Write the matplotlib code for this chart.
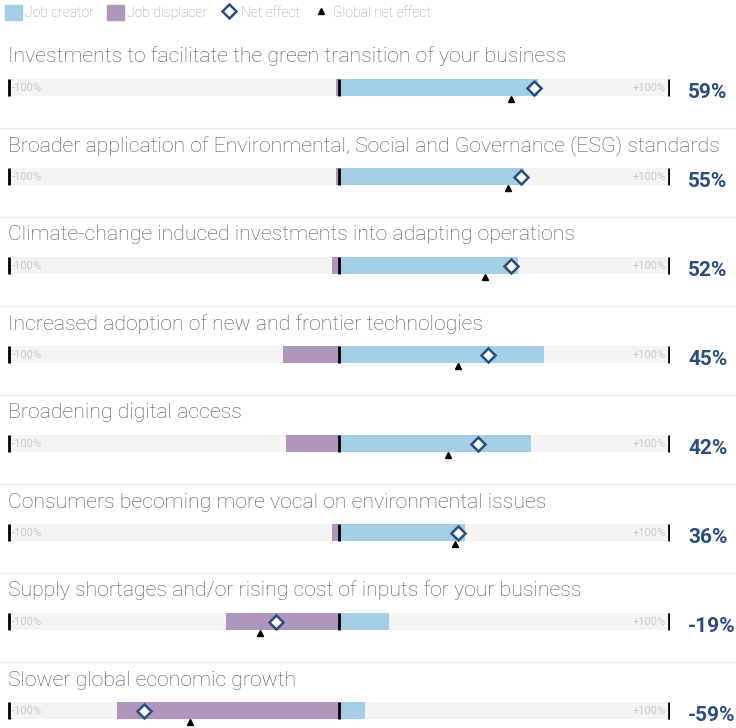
import numpy as np
import matplotlib.pyplot as plt
from matplotlib.patches import Patch
from matplotlib.lines import Line2D

# data (percent of respondents)
labels = [
    "Investments to facilitate the green transition of your business",
    "Broader application of Environmental, Social and Governance (ESG) standards",
    "Climate-change induced investments into adapting operations",
    "Increased adoption of new and frontier technologies",
    "Broadening digital access",
    "Consumers becoming more vocal on environmental issues",
    "Supply shortages and/or rising cost of inputs for your business",
    "Slower global economic growth",
]
creator = [60, 56, 54, 62, 58, 38, 15, 8]
displacer = [1, 1, 2, 17, 16, 2, 34, 67]
net = [59, 55, 52, 45, 42, 36, -19, -59]
global_net = [52, 51, 44, 36, 33, 35, -24, -45]

c_create = "#a3cee6"
c_displace = "#b096bd"
c_net = "#2b4e7f"
c_title = "#555555"
c_faint = "#c8c8c8"

plt.rcParams['font.family'] = ['Roboto', 'DejaVu Sans']

W, H = 736, 728
fig = plt.figure(figsize=(W / 100, H / 100), dpi=100)
ax = fig.add_axes([8 / W, 0, 662 / W, 1])

row_px = 89.0
first_px = 87.5
ax.set_xlim(-100, 100)
ax.set_ylim((H - first_px) / row_px, -first_px / row_px)
ax.axis("off")

y = np.arange(len(labels))
bh = 17 / row_px

# background track, then the two stacked parts
ax.barh(y, 200, left=-100, height=bh, color="#f4f4f4", zorder=1)
ax.barh(y, creator, left=0, height=bh, color=c_create, zorder=2)
ax.barh(y, [-d for d in displacer], left=0, height=bh, color=c_displace, zorder=2)

# center and end ticks
for yi in y:
    ax.vlines([-99.7, 0, 99.7], yi - bh / 2, yi + bh / 2, color="black", lw=2, zorder=3)

ax.plot(net, y, ls="none", marker="D", ms=7, mfc="white", mec=c_net, mew=1.8, zorder=5)
ax.plot(global_net, y + 11.5 / row_px, ls="none", marker="^", ms=4.5,
        color="black", zorder=5, clip_on=False)

for i, lab in enumerate(labels):
    ax.text(-100, i - 25 / row_px, lab, fontsize=15.3, color=c_title,
            fontweight="light", va="baseline", ha="left")
    ax.text(-98.8, i + 0.01, "-100%", fontsize=8, color=c_faint, va="center", ha="left")
    ax.text(98.8, i + 0.01, "+100%", fontsize=8, color=c_faint, va="center", ha="right")
    ax.annotate(f"{net[i]}%", (100, i), xytext=(13, -3.8), textcoords="offset points",
                fontsize=15, fontweight="bold", color=c_net, va="center",
                ha="left", annotation_clip=False)
    if i < len(labels) - 1:
        ax.axhline(i + 40 / row_px, xmin=-8 / 662, xmax=728 / 662, color="#eeeeee",
                   lw=1, clip_on=False)

handles = [
    Patch(color=c_create, label="Job creator"),
    Patch(color=c_displace, label="Job displacer"),
    Line2D([], [], ls="none", marker="D", ms=7, mfc="white", mec=c_net, mew=1.8,
           label="Net effect"),
    Line2D([], [], ls="none", marker="^", ms=4.5, color="black", label="Global net effect"),
]
fig.legend(handles=handles, loc="upper left", bbox_to_anchor=(0.0, 1.0), ncol=4,
           frameon=False, labelcolor="#999999", handlelength=1.25,
           handleheight=1.25, handletextpad=0.2, columnspacing=0.95, borderpad=0.15,
           borderaxespad=0.2, prop={"weight": "light", "size": 10})

fig.savefig("out.png", dpi=100)
